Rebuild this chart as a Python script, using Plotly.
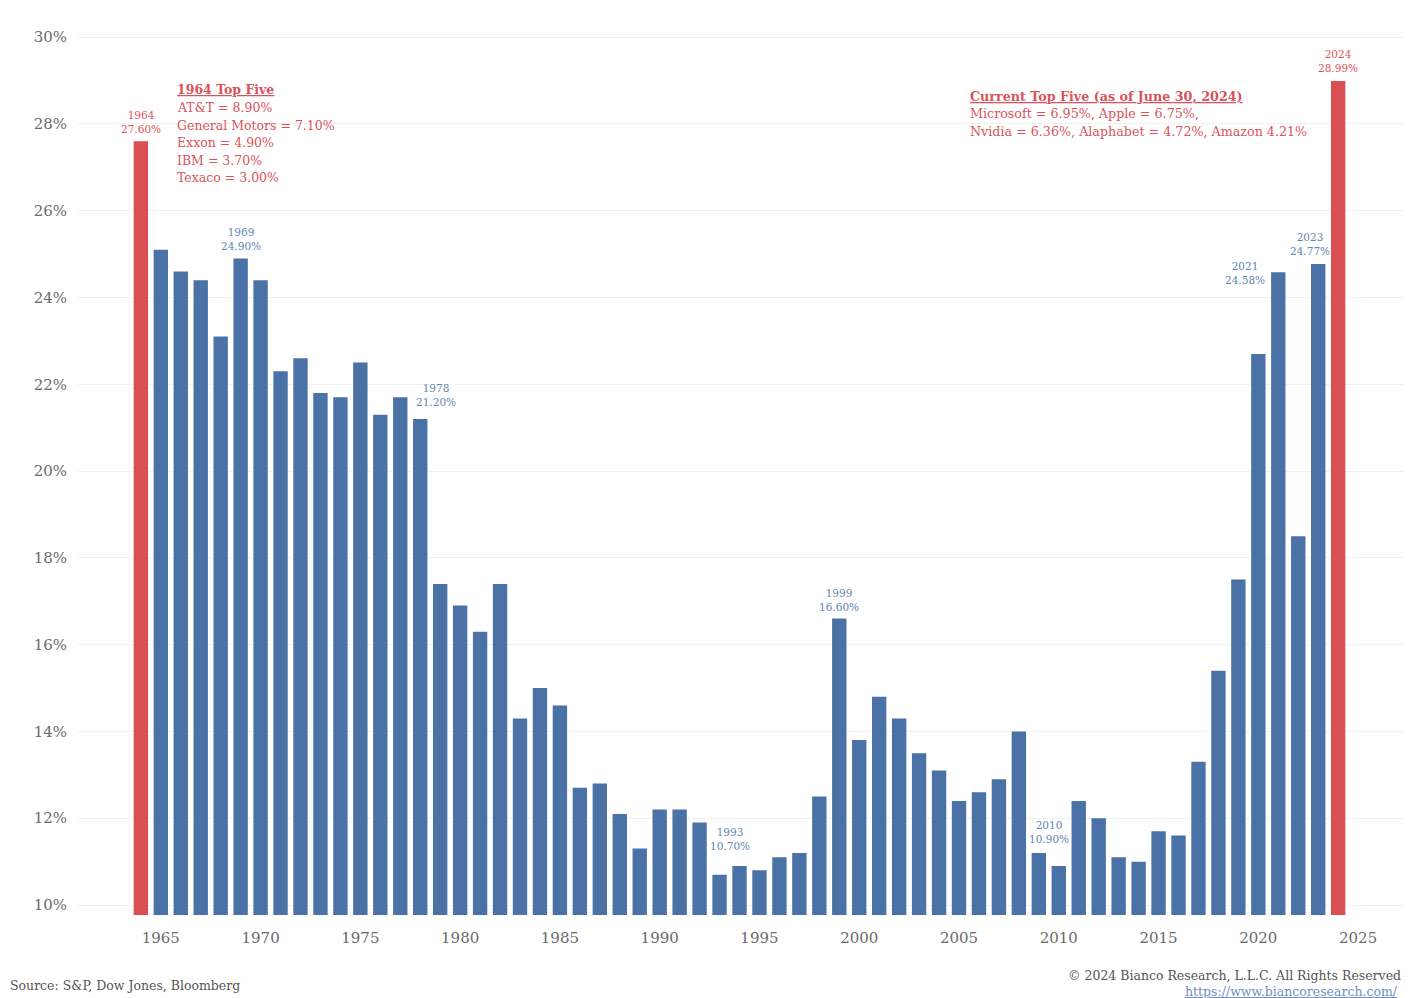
import plotly.graph_objects as go

years = list(range(1964, 2025))
share = [27.60, 25.1, 24.6, 24.4, 23.1, 24.90, 24.4, 22.3, 22.6, 21.8,
         21.7, 22.5, 21.3, 21.7, 21.20, 17.4, 16.9, 16.3, 17.4, 14.3,
         15.0, 14.6, 12.7, 12.8, 12.1, 11.3, 12.2, 12.2, 11.9, 10.70,
         10.9, 10.8, 11.1, 11.2, 12.5, 16.60, 13.8, 14.8, 14.3, 13.5,
         13.1, 12.4, 12.6, 12.9, 14.0, 11.2, 10.90, 12.4, 12.0, 11.1,
         11.0, 11.7, 11.6, 13.3, 15.4, 17.5, 22.7, 24.58, 18.5, 24.77,
         28.99]
highlight_years = [1964, 2024]

label_years = [1964, 1969, 1978, 1993, 1999, 2010, 2021, 2023, 2024]
label_dx = [0, 0, 16, 10, 0, -10, -33, -8, 0]
label_dy = [19, 19, 24, 36, 19, 34, -1, 20, 20]

top5_1964_title = "1964 Top Five"
top5_1964 = ["AT&T = 8.90%", "General Motors = 7.10%", "Exxon = 4.90%",
             "IBM = 3.70%", "Texaco = 3.00%"]
top5_now_title = "Current Top Five (as of June 30, 2024)"
top5_now = ["Microsoft = 6.95%, Apple = 6.75%,",
            "Nvidia = 6.36%, Alaphabet = 4.72%, Amazon 4.21%"]

source_text = "Source: S&P, Dow Jones, Bloomberg"
copyright_text = "© 2024 Bianco Research, L.L.C. All Rights Reserved"
url_text = "https://www.biancoresearch.com/"

x_ticks = list(range(1965, 2026, 5))
y_ticks = list(range(10, 31, 2))

BLUE = "#4a72a6"
RED = "#da4f52"
BLUE_TXT = "#6385b3"
RED_TXT = "#d9535a"
FONT = "DejaVu Serif"

OFF = 8  # page body margin
W, H = 1411 - OFF, 998 - OFF
L, R, T, B = 78 - OFF, 6, 25 - OFF, 998 - 915

colors = [RED if y in highlight_years else BLUE for y in years]

fig = go.Figure(go.Bar(x=years, y=share, marker_color=colors,
                       marker_line_width=0, width=0.72, hoverinfo="x+y"))

ann = []
for yr, dx, dy in zip(label_years, label_dx, label_dy):
    v = share[years.index(yr)]
    ann.append(dict(x=yr, y=v, xref="x", yref="y", text=f"{yr}<br>{v:.2f}%",
                    showarrow=False, xanchor="center", yanchor="middle",
                    xshift=dx, yshift=dy, align="center",
                    font=dict(family=FONT, size=10.5,
                              color=RED_TXT if yr in highlight_years else BLUE_TXT)))

def px_x(p):
    return (p - OFF - L) / (W - L - R)

def px_y(p):
    return 1 - (p - OFF - T) / (H - T - B)

u = lambda s: f"<span style='text-decoration:underline'><b>{s}</b></span>"

def block(x0, ys, lines, size):
    for yy, s in zip(ys, lines):
        ann.append(dict(x=px_x(x0), y=px_y(yy), xref="paper", yref="paper",
                        text=s, showarrow=False, xanchor="left",
                        yanchor="middle", align="left",
                        font=dict(family=FONT, size=size, color=RED_TXT)))

block(175, [90, 107.5, 125, 142.5, 160, 177.5],
      [u(top5_1964_title)] + top5_1964, 12.5)
block(968, [96, 113.5, 131], [u(top5_now_title)] + top5_now, 12.7)

ann.append(dict(x=px_x(8), y=px_y(985), xref="paper", yref="paper",
                text=source_text, showarrow=False,
                xanchor="left", yanchor="middle",
                font=dict(family=FONT, size=12.5, color="#555555")))
ann.append(dict(x=px_x(1403), y=px_y(975), xref="paper", yref="paper",
                text=copyright_text,
                showarrow=False, xanchor="right", yanchor="middle",
                font=dict(family=FONT, size=12.5, color="#555555")))
ann.append(dict(x=px_x(1400), y=px_y(991), xref="paper", yref="paper",
                text=f"<span style='text-decoration:underline'>{url_text}</span>",
                showarrow=False, xanchor="right", yanchor="middle",
                font=dict(family=FONT, size=12.5, color="#6f8fbf")))

fig.update_layout(
    width=W, height=H,
    margin=dict(l=L, r=R, t=T, b=B),
    paper_bgcolor="white", plot_bgcolor="white",
    showlegend=False,
    font=dict(family=FONT, color="#666666"),
    annotations=ann,
    xaxis=dict(range=[1960.85, 2027.35], tickvals=x_ticks,
               ticktext=[str(t) for t in x_ticks], showgrid=False,
               zeroline=False, showline=False, ticks="",
               tickfont=dict(family=FONT, size=15, color="#6a6a6a"),
               ticklabelstandoff=12),
    yaxis=dict(range=[9.77, 30.28], tickvals=y_ticks,
               ticktext=[f"{t}%" for t in y_ticks], showgrid=True,
               gridcolor="#f1f1f1", gridwidth=1, zeroline=False,
               showline=False, ticks="",
               tickfont=dict(family=FONT, size=15, color="#6a6a6a"),
               ticklabelstandoff=10),
)

fig.write_html("out.html")
